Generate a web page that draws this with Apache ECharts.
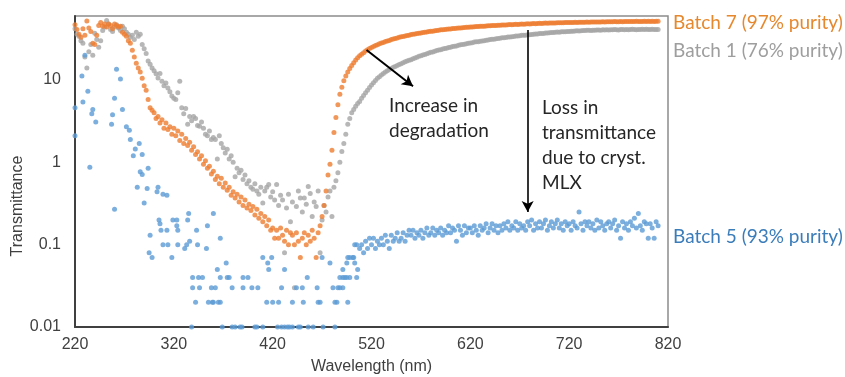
<!DOCTYPE html>
<html><head><meta charset="utf-8">
<script src="https://cdn.jsdelivr.net/npm/echarts@6/dist/echarts.min.js"></script>
<style>html,body{margin:0;padding:0;background:#fff}#chart{width:845px;height:377px}</style>
</head><body><div id="chart"></div>
<script>
// ---------- data ----------
const WL_START = 220, WL_STEP = 2;          // dense series sampled every 2 nm from 220 nm
const seriesNames = ['Batch 1 (76% purity)', 'Batch 5 (93% purity)', 'Batch 7 (97% purity)'];

const batch7Values = [
 47,41,36,33,42,35,52,43,39,28,
 27,35,46,50,45,48,44,48,46,42,
 48,46,44,45,38,36,34,30,28,23,
 19,16,14,12.5,10.5,8.5,7.5,5.8,4.6,4.3,
 4.0,3.4,3.6,3.0,3.3,2.6,3.0,2.5,2.7,2.2,
 2.6,2.1,2.4,1.85,2.2,1.7,1.95,1.6,1.75,1.4,
 1.55,1.25,1.35,1.1,1.2,0.95,1.05,0.85,0.9,0.72,
 0.78,0.62,0.68,0.55,0.64,0.5,0.56,0.46,0.5,0.4,
 0.44,0.37,0.41,0.33,0.38,0.3,0.35,0.28,0.31,0.26,
 0.29,0.23,0.27,0.21,0.24,0.19,0.22,0.17,0.2,0.15,
 0.16,0.12,0.15,0.12,0.16,0.13,0.11,0.15,0.1,0.14,
 0.13,0.1,0.14,0.11,0.07,0.12,0.14,0.1,0.13,0.11,
 0.15,0.12,0.07,0.14,0.17,0.22,0.3,0.45,0.7,0.95,
 1.4,2.3,3.5,5.0,6.7,8.2,9.8,11.2,12.5,13.8,
 15,16.2,17.5,18.6,19.7,20.6,21.5,22.5,23.3,24.1,
 24.8,25.6,26.2,26.8,27.6,28.1,28.6,29.4,29.9,30.3,
 31.0,31.6,32.0,32.4,33.1,33.5,33.8,34.4,34.8,35.1,
 35.7,36.0,36.3,36.9,37.1,37.4,37.9,38.2,38.4,38.9,
 39.1,39.3,39.8,40.0,40.2,40.7,40.8,41.1,41.5,41.6,
 41.8,42.2,42.3,42.7,42.8,43.0,43.3,43.4,43.7,43.8,
 44.1,44.2,44.3,44.7,44.6,44.9,45.2,45.1,45.4,45.6,
 45.6,45.9,46.0,46.1,46.4,46.3,46.6,46.8,46.7,47.0,
 47.2,47.1,47.4,47.5,47.4,47.7,47.9,47.8,48.1,48.2,
 48.1,48.4,48.5,48.4,48.7,48.9,48.8,49.0,49.2,49.1,
 49.3,49.4,49.2,49.5,49.7,49.6,49.8,49.7,50.0,49.9,
 50.1,50.0,50.2,50.3,50.1,50.4,50.3,50.5,50.4,50.6,
 50.5,50.7,50.6,50.8,50.7,50.9,50.8,51.0,50.9,51.1,
 51.0,51.2,51.0,51.3,51.1,51.2,51.4,51.2,51.5,51.3,
 51.4,51.6,51.3,51.5,51.7,51.4,51.6,51.5,51.8,51.6,
 51.7,51.5,51.8,51.6,51.9,51.7
];

const batch1Values = [
 42,36,34,30,28,19,14,22,27,20,
 37,31,25,30,40,44,53,48,41,39,
 44,47,43,40,45,42,38,36,33,35,
 31,38,34,36,27,24,21,17,15.6,14,
 13,11.9,10.6,12,9.7,8.5,9.2,8,7.2,6.4,
 6,5.8,7,9.7,4.6,3.9,4.5,2.9,3.6,3.2,
 3.6,3.4,2.8,2.75,3.1,2.6,2.2,2.1,2.4,1.9,
 2.0,1.9,1.1,2.1,1.7,1.5,1.3,1.44,1.1,1.2,
 1.0,0.67,0.85,0.75,0.8,0.62,0.7,0.55,0.6,0.5,
 0.47,0.55,0.45,0.41,0.5,0.32,0.45,0.5,0.54,0.38,
 0.44,0.35,0.54,0.3,0.4,0.35,0.08,0.28,0.41,0.19,
 0.33,0.03,0.29,0.45,0.37,0.25,0.37,0.31,0.51,0.42,
 0.22,0.33,0.29,0.45,0.08,0.2,0.3,0.25,0.38,0.45,
 0.22,0.5,0.6,0.75,1.0,1.36,1.7,2.2,2.9,3.4,
 4.0,4.4,4.8,5.2,5.5,6.0,6.5,7.0,7.5,8.1,
 8.7,9.3,9.9,10.5,11.0,11.5,12.0,12.5,13.0,13.4,
 13.8,14.3,14.6,15.0,15.5,15.8,16.2,16.7,17.0,17.4,
 17.7,18.2,18.5,18.9,19.4,19.7,20.1,20.4,20.9,21.3,
 21.7,21.9,22.4,22.8,23.1,23.3,23.8,24.2,24.4,24.8,
 25.1,25.5,25.8,26.0,26.4,26.8,27.0,27.2,27.7,27.9,
 28.2,28.4,28.9,29.1,29.2,29.7,29.9,30.1,30.5,30.6,
 31.0,31.3,31.4,31.8,32.0,32.1,32.6,32.7,32.9,33.3,
 33.4,33.6,33.9,34.2,34.3,34.5,34.9,35.0,35.1,35.5,
 35.6,35.7,36.1,36.2,36.3,36.7,36.8,36.9,37.3,37.2,
 37.5,37.8,37.7,38.0,38.3,38.2,38.5,38.6,38.7,39.0,
 38.9,39.3,39.2,39.4,39.6,39.5,39.8,39.9,40.0,40.2,
 40.2,40.0,40.4,40.3,40.6,40.5,40.3,40.7,40.6,40.8,
 40.5,40.9,40.7,41.0,40.8,40.6,41.0,41.1,40.9,41.2,
 40.8,41.0,41.3,41.1,40.9,41.2,41.0,41.3,41.1,41.4,
 41.0,41.2,41.3,41.1,41.2,41.0
];

// Batch 5: sparse, quantised readings below ~510 nm as [wavelength, value]
const batch5SparsePoints = [
 [220,4.6],[220,2.1],[227,11.2],[228,5.4],[230,20],[233,7.3],[235,0.87],[237,3.9],[238,4.4],[241,3.1],
 [257,2.9],[258,3.8],[260,6.0],[260,0.27],[262,13.5],[266,10.3],[268,4.4],[272,2.7],[275,2.45],[276,1.9],
 [279,1.2],[281,1.45],[283,0.5],[285,1.7],[286,0.77],[288,1.25],[288,0.71],[290,0.32],[293,0.48],[294,0.85],
 [295,0.08],[296,0.13],[298,0.07],[303,0.44],[304,0.5],[305,0.2],[306,0.18],[307,0.15],[309,0.41],[309,0.1],
 [313,0.4],[313,0.15],[314,0.1],[318,0.07],[319,0.2],[323,0.2],[323,0.17],[324,0.15],[324,0.1],[331,0.09],
 [333,0.1],[334,0.2],[335,0.24],[336,0.11],[338,0.01],[339,0.04],[339,0.03],[342,0.02],[343,0.15],[344,0.1],
 [345,0.04],[346,0.03],[349,0.04],[353,0.09],[354,0.17],[355,0.02],[358,0.03],[359,0.02],[360,0.24],[360,0.02],
 [362,0.03],[364,0.05],[365,0.02],[367,0.12],[367,0.04],[367,0.02],[369,0.01],[373,0.06],[374,0.04],[376,0.04],
 [379,0.03],[379,0.01],[382,0.01],[387,0.01],[389,0.01],[390,0.04],[390,0.03],[395,0.04],[399,0.03],[402,0.01],
 [404,0.01],[405,0.03],[410,0.07],[410,0.01],[414,0.02],[415,0.06],[416,0.05],[419,0.07],[420,0.02],[425,0.01],
 [426,0.02],[429,0.03],[429,0.01],[432,0.05],[432,0.01],[435,0.01],[437,0.01],[440,0.02],[440,0.01],[444,0.03],
 [446,0.01],[448,0.01],[450,0.03],[451,0.02],[455,0.04],[456,0.01],[461,0.01],[465,0.03],[466,0.02],[468,0.02],
 [470,0.07],[471,0.01],[478,0.06],[481,0.03],[483,0.02],[483,0.01],[485,0.02],[486,0.03],[488,0.04],[488,0.03],
 [491,0.05],[491,0.04],[491,0.03],[493,0.04],[495,0.06],[495,0.04],[496,0.07],[496,0.02],[498,0.07],[498,0.04],
 [501,0.07],[502,0.07],[503,0.1],[503,0.06],[505,0.1],[505,0.04],[506,0.05],[508,0.09]
];
// Batch 5: dense band from 510 nm, every 2 nm
const BAND_START = 510;
const batch5BandValues = [
 .10,.08,.11,.09,.12, .10,.12,.09,.11,.10, .12,.10,.13,.11,.09, .13,.11,.12,.14,.11,
 .12,.14,.11,.13,.15, .13,.15,.12,.14,.13, .15,.12,.14,.16,.13, .14,.16,.13,.15,.14,
 .16,.13,.15,.14,.17, .14,.16,.15,.11,.17, .15,.13,.17,.14,.16, .16,.14,.17,.15,.13,
 .17,.15,.16,.18,.14, .16,.18,.15,.17,.14, .17,.15,.18,.16,.19, .15,.17,.16,.19,.15,
 .18,.16,.17,.15,.19, .17,.20,.15,.18,.16, .19,.16,.18,.20,.15, .17,.19,.16,.18,.20,
 .16,.18,.15,.19,.17, .18,.15,.19,.17,.16, .25,.18,.15,.19,.17, .19,.16,.18,.15,.20,
 .16,.19,.17,.15,.18, .19,.16,.18,.20,.15, .17,.12,.19,.16,.18, .15,.19,.17,.21,.16,
 .24,.17,.15,.19,.18, .12,.18,.16,.12,.19, .17
];

const xTickLabels = [220, 320, 420, 520, 620, 720, 820];
const yTickLabels = [0.01, 0.1, 1, 10];

// annotation arrows, in data coordinates [wavelength, transmittance]
const arrowDegradation = [[515, 23.2], [562, 8.4]];
const arrowLoss = [[678, 40.5], [678, 0.25]];

// ---------- build ----------
const dense = (vals, start) => vals.map((v, i) => [start + i * WL_STEP, v]);
const batch7Data = dense(batch7Values, WL_START);
const batch1Data = dense(batch1Values, WL_START);
const batch5Data = batch5SparsePoints.concat(dense(batch5BandValues, BAND_START));

const mctx = document.createElement('canvas').getContext('2d');
mctx.font = '100px Lato';
const refW = mctx.measureText(seriesNames[2]).width || 866;
const annSize = Math.round(170 / refW * 1000) / 10;
const annFont = annSize + 'px Lato, "Noto Sans", sans-serif';
const axisFont = '"Liberation Sans", Arial, sans-serif';

const chart = echarts.init(document.getElementById('chart'));
const sym = 5;
chart.setOption({
  animation: false,
  backgroundColor: '#ffffff',
  grid: { left: 75, right: 177, top: 16, bottom: 50, show: true, borderColor: '#8c8c8c', borderWidth: 1.5,
          backgroundColor: 'transparent', containLabel: false, outerBoundsMode: 'none' },
  xAxis: {
    type: 'value', min: xTickLabels[0], max: xTickLabels[xTickLabels.length - 1], interval: 100,
    name: 'Wavelength (nm)', nameLocation: 'middle', nameGap: 32,
    nameTextStyle: { fontFamily: axisFont, fontSize: 16, color: '#404040' },
    axisLine: { show: true, lineStyle: { color: '#404040', width: 2 } },
    axisTick: { show: false }, splitLine: { show: false },
    axisLabel: { fontFamily: axisFont, fontSize: 16, color: '#404040', margin: 10 }
  },
  yAxis: {
    type: 'log', logBase: 10, min: 0.01, max: 60,
    axisLine: { show: true, lineStyle: { color: '#404040', width: 2 } },
    axisTick: { show: false }, splitLine: { show: false }, minorSplitLine: { show: false },
    axisLabel: { fontFamily: axisFont, fontSize: 16, color: '#404040', margin: 14,
      formatter: v => { const m = yTickLabels.find(t => Math.abs(t - v) / t < 1e-6); return m === undefined ? '' : String(m); } }
  },
  series: [
    { name: seriesNames[0], type: 'scatter', data: batch1Data, symbolSize: sym, itemStyle: { color: '#A5A5A5' }, z: 2 },
    { name: seriesNames[1], type: 'scatter', data: batch5Data, symbolSize: sym, itemStyle: { color: '#5B9BD5' }, z: 3 },
    { name: seriesNames[2], type: 'scatter', data: batch7Data, symbolSize: sym, itemStyle: { color: '#ED7D31' }, z: 4,
      markLine: {
        silent: true, animation: false, symbol: ['none', 'arrow'], symbolSize: [9, 11], label: { show: false },
        lineStyle: { color: '#000000', type: 'solid', width: 2 },
        data: [
          [{ coord: arrowDegradation[0] }, { coord: arrowDegradation[1] }],
          [{ coord: arrowLoss[0], lineStyle: { width: 1.6 } }, { coord: arrowLoss[1] }]
        ]
      } }
  ],
  graphic: [
    { type: 'text', x: 18, y: 206, rotation: Math.PI / 2,
      style: { text: 'Transmittance', font: '16px ' + axisFont, fill: '#404040', align: 'center', verticalAlign: 'middle' } },
    { type: 'text', x: 673, y: 23, style: { text: seriesNames[2], font: annFont, fill: '#E6882E', align: 'left', verticalAlign: 'middle' } },
    { type: 'text', x: 673, y: 51, style: { text: seriesNames[0], font: annFont, fill: '#9E9E9E', align: 'left', verticalAlign: 'middle' } },
    { type: 'text', x: 673, y: 237, style: { text: seriesNames[1], font: annFont, fill: '#3B7DBA', align: 'left', verticalAlign: 'middle' } },
    { type: 'text', x: 389, y: 118.5, style: { text: 'Increase in\ndegradation', font: annFont, lineHeight: 25, fill: '#262626', align: 'left', verticalAlign: 'middle' } },
    { type: 'text', x: 542, y: 145.5, style: { text: 'Loss in\ntransmittance\ndue to cryst.\nMLX', font: annFont, lineHeight: 25, fill: '#262626', align: 'left', verticalAlign: 'middle' } }
  ]
});
</script></body></html>
